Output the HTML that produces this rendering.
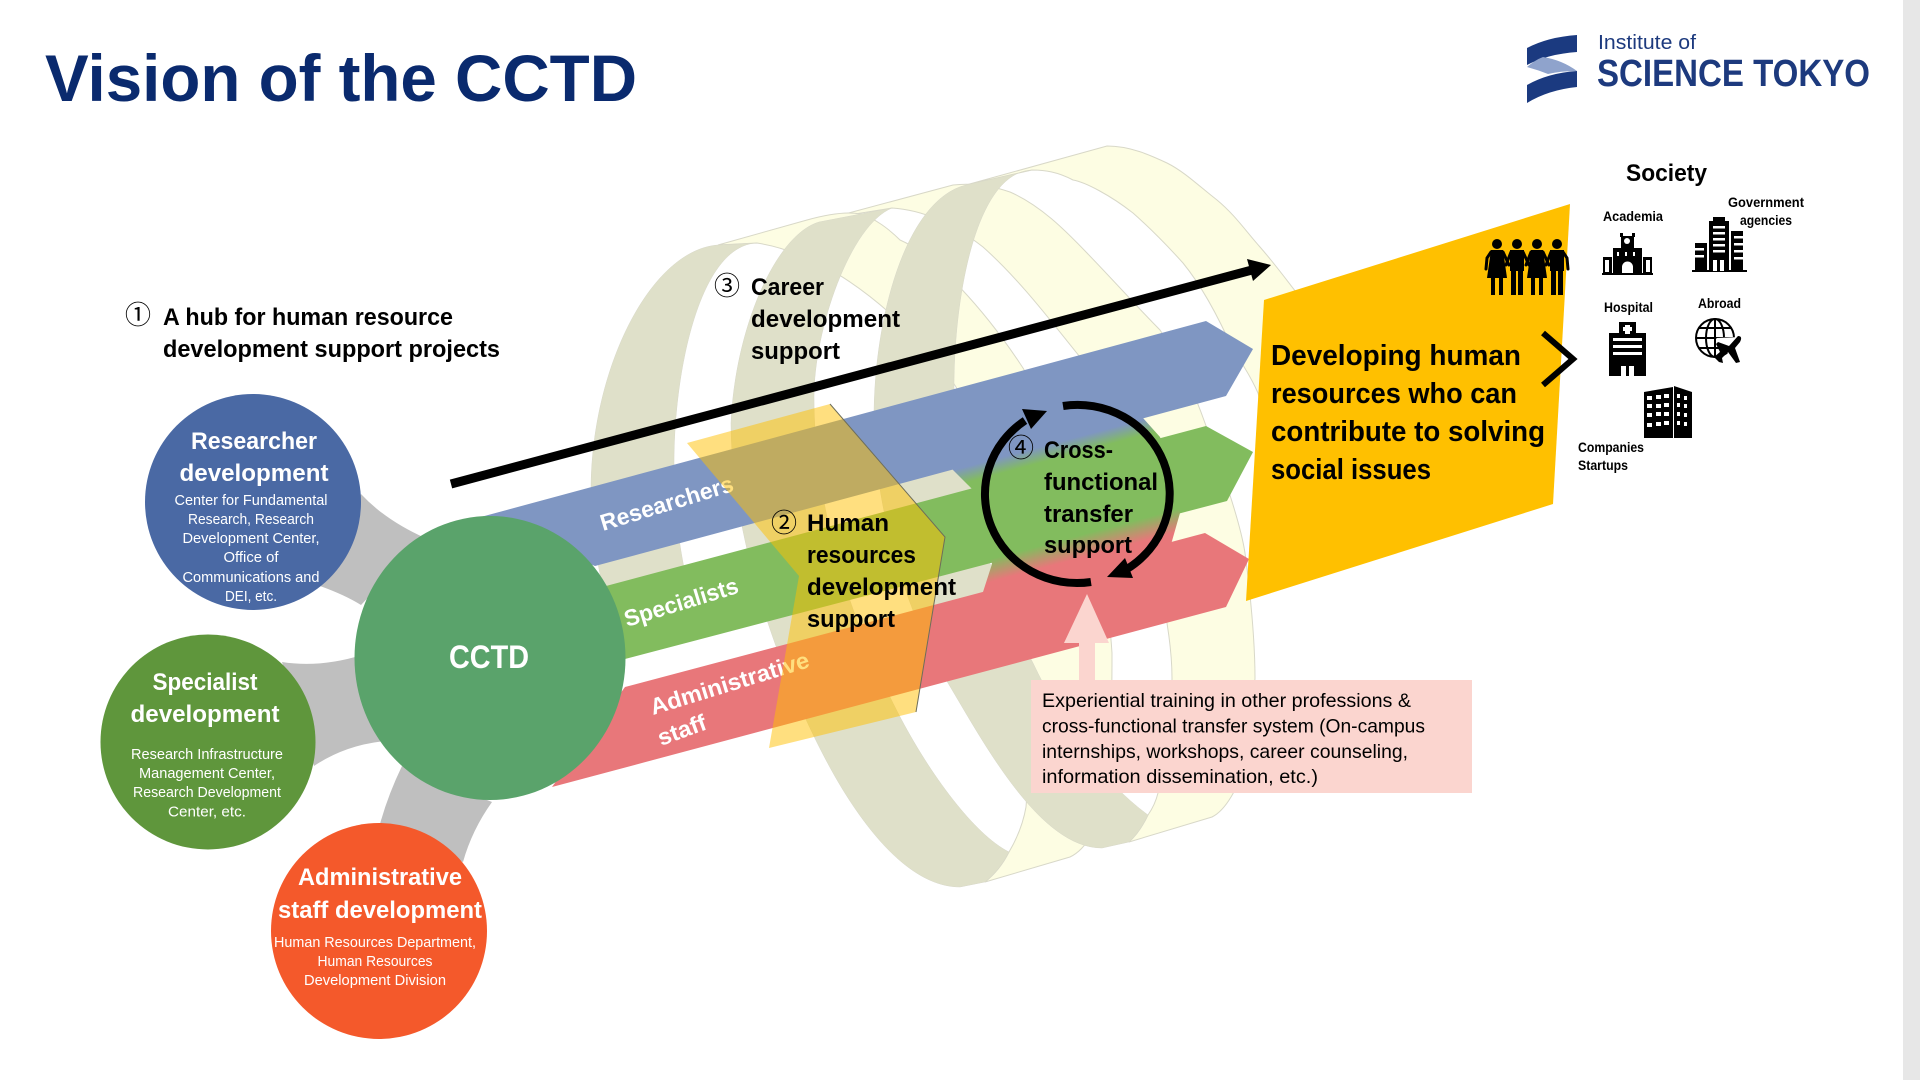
<!DOCTYPE html>
<html lang="en"><head><meta charset="utf-8"><title>Vision of the CCTD</title>
<style>html,body{margin:0;padding:0;background:#fff;width:1920px;height:1080px;overflow:hidden}svg{display:block}
text{font-family:"Liberation Sans","Noto Sans CJK JP",sans-serif}
.b{font-weight:bold}.w{fill:#fff}.s{font-size:14.5px;fill:#fff;text-anchor:middle}.t{font-size:24px;font-weight:bold;fill:#fff;text-anchor:middle}
.k{font-size:24px;font-weight:bold;fill:#000}.n{font-size:26px;fill:#000;text-anchor:middle}.l{font-size:13.5px;fill:#000;font-weight:bold}.p{font-size:19.5px;fill:#000}.d{font-size:29px;font-weight:bold;fill:#000}
.pale{fill:#fdfde3;stroke:#d8d8c8;stroke-width:1}.ol{fill:#dfe0c9;stroke:#d8d8c8;stroke-width:.5}</style></head><body>
<svg xmlns="http://www.w3.org/2000/svg" width="1920" height="1080" viewBox="0 0 1920 1080">
<defs><linearGradient id="g" gradientUnits="userSpaceOnUse" x1="1077" y1="400" x2="1127" y2="586.500"><stop offset=".185" stop-color="#7f96c2"/><stop offset=".265" stop-color="#82bc5e"/><stop offset=".68" stop-color="#82bc5e"/><stop offset=".795" stop-color="#e8777a"/></linearGradient></defs>
<rect width="1920" height="1080" fill="#fff"/>
<rect x="1903" y="0" width="17" height="1080" fill="#e7e7e7"/>
<text x="45" y="101" class="b" font-size="66" fill="#0a2a6e" textLength="592" lengthAdjust="spacingAndGlyphs">Vision of the CCTD</text>
<path d="M1527 48 Q1548 37 1577 35 L1577 52 Q1548 54 1527 65Z" fill="#1b3a80"/>
<path d="M1527 67 Q1535 60 1543 57 Q1562 60 1577 71 Q1560 71 1548 74 Q1538 70 1527 67Z" fill="#8fa3cc"/>
<path d="M1527 85 Q1548 73 1577 71 L1577 87 Q1548 90 1527 103Z" fill="#1b3a80"/>
<text x="1598" y="49" font-size="20" fill="#1d3a7e" textLength="98" lengthAdjust="spacingAndGlyphs">Institute of</text>
<text x="1597" y="86" class="b" font-size="38" fill="#1d3a7e" textLength="273" lengthAdjust="spacingAndGlyphs">SCIENCE TOKYO</text>

<path class="pale" d="M966 185 L1107 146 C1130 146 1150 155 1167 163 C1185 172 1200 187 1217 200 C1235 215 1245 230 1260 247 C1280 270 1290 285 1300 297 L1310 410 L1262 410 L1258 393 C1250 375 1240 360 1233 350 C1222 325 1205 290 1183 263 C1165 243 1150 228 1133 213 C1110 195 1085 182 1073 180 C1058 172 1045 170 1032 170Z"/>
<path class="pale" d="M830 218 L953 185 C970 183 990 185 1010 192 C1040 205 1065 230 1087 253 C1115 282 1140 310 1160 330 C1180 360 1195 395 1205 423 C1220 465 1240 520 1245 553 C1250 590 1255 640 1255 678 C1253 720 1245 775 1231 797 Q1222 812 1212 817 L1129 842 Q1140 832 1148 815 Q1155 805 1158 793 C1165 760 1172 710 1172 678 C1172 600 1130 460 1080 357 C1050 320 1020 280 983 247 C955 225 925 210 892 208Z"/>
<path class="pale" d="M718 245 L807 220 C825 215 845 211 860 214 C875 218 890 230 900 240 C935 255 985 310 1023 368 C1060 430 1105 540 1112 653 C1112 720 1110 770 1105 793 Q1095 845 1070 857 L985 882 Q1000 870 1009 852 Q1022 830 1026 807 C1030 760 1032 700 1029 660 C1020 570 990 450 956 387 C925 340 860 280 810 260 C790 250 770 245 757 243Z"/>
<path class="ol" d="M718 245 C650 250 591 370 591 490 C591 530 598 570 610 620 L692 600 C680 560 674 510 674 463 C674 370 700 245 757 243Z"/>
<path class="ol" d="M819 222 C775 235 735 330 731 423 C731 560 800 720 843 790 C880 850 920 887 960 887 L985 882 Q1000 870 1009 852 C975 835 930 775 898 713 C845 610 814 500 814 397 C814 330 850 225 892 208Z"/>
<path class="ol" d="M966 185 C905 200 874 320 874 417 C874 520 915 630 948 683 C985 745 1040 848 1102 848 L1129 842 Q1140 832 1148 815 C1100 780 1060 720 1033 663 C1000 600 960 500 954 387 C954 300 975 172 1032 170Z"/>
<polygon points="880,484 952,469 972,489 890,512" fill="#dfe0c9"/>
<polygon points="920,578 992,564 983,592 920,612" fill="#dfe0c9"/>

<path d="M361 494 Q385 520 425 538 L361 605 Q345 595 320 586Z" fill="#bfbfbf"/>
<path d="M282 662 Q320 668 362 655 L385 741 Q345 745 314 766Z" fill="#bfbfbf"/>
<path d="M402 766 Q388 795 380 824 L463 862 Q472 830 492 802Z" fill="#bfbfbf"/>

<polygon points="477,518 1206,321 1253,349 1226,396 595,566" fill="#7f96c2"/>
<polygon points="606,586 1206,426 1253,452 1227,501 625,659" fill="#82bc5e"/>
<polygon points="625,687 1205,533 1249,559 1226,607 552,787" fill="#e8777a"/>
<polygon points="952,469 972,489 992,564 983,592 1000,625 1150,610 1172,541 1180,513 1173,470 1160,437 1143,418 1100,395 1000,420" fill="url(#g)"/>

<ellipse cx="253" cy="502" rx="108" ry="108" fill="#4a69a4"/>
<circle cx="208" cy="742" r="107.500" fill="#5f963c"/>
<circle cx="379" cy="931" r="108" fill="#f4592b"/>
<ellipse cx="490" cy="658" rx="135.500" ry="142" fill="#5aa36b"/>

<text x="254" y="449" class="t" textLength="126" lengthAdjust="spacingAndGlyphs">Researcher</text>
<text x="254" y="481" class="t" textLength="149" lengthAdjust="spacingAndGlyphs">development</text>
<text x="251" y="505" class="s" textLength="153" lengthAdjust="spacingAndGlyphs">Center for Fundamental</text>
<text x="251" y="524" class="s" textLength="126" lengthAdjust="spacingAndGlyphs">Research, Research</text>
<text x="251" y="543" class="s" textLength="137" lengthAdjust="spacingAndGlyphs">Development Center,</text>
<text x="251" y="562" class="s" textLength="55" lengthAdjust="spacingAndGlyphs">Office of</text>
<text x="251" y="582" class="s" textLength="137" lengthAdjust="spacingAndGlyphs">Communications and</text>
<text x="251" y="601" class="s" textLength="52" lengthAdjust="spacingAndGlyphs">DEI, etc.</text>

<text x="205" y="690" class="t" textLength="105" lengthAdjust="spacingAndGlyphs">Specialist</text>
<text x="205" y="722" class="t" textLength="149" lengthAdjust="spacingAndGlyphs">development</text>
<text x="207" y="759" class="s" textLength="152" lengthAdjust="spacingAndGlyphs">Research Infrastructure</text>
<text x="207" y="778" class="s" textLength="136" lengthAdjust="spacingAndGlyphs">Management Center,</text>
<text x="207" y="797" class="s" textLength="148" lengthAdjust="spacingAndGlyphs">Research Development</text>
<text x="207" y="816.500" class="s" textLength="78" lengthAdjust="spacingAndGlyphs">Center,  etc.</text>

<text x="380" y="885" class="t" textLength="164" lengthAdjust="spacingAndGlyphs">Administrative</text>
<text x="380" y="918" class="t" textLength="204" lengthAdjust="spacingAndGlyphs">staff development</text>
<text x="375" y="947" class="s" textLength="202" lengthAdjust="spacingAndGlyphs">Human Resources Department,</text>
<text x="375" y="966" class="s" textLength="115" lengthAdjust="spacingAndGlyphs">Human Resources</text>
<text x="375" y="985" class="s" textLength="142" lengthAdjust="spacingAndGlyphs">Development Division</text>

<text x="489" y="668" class="b w" font-size="32" text-anchor="middle" textLength="80" lengthAdjust="spacingAndGlyphs">CCTD</text>

<text transform="translate(603 531) rotate(-17)" class="b w" font-size="23" textLength="138" lengthAdjust="spacingAndGlyphs">Researchers</text>
<text transform="translate(627 627) rotate(-17)" class="b w" font-size="23" textLength="118" lengthAdjust="spacingAndGlyphs">Specialists</text>
<text transform="translate(653 715) rotate(-17)" class="b w" font-size="23" textLength="165" lengthAdjust="spacingAndGlyphs">Administrative</text>
<text transform="translate(661 746) rotate(-20)" class="b w" font-size="23" textLength="50" lengthAdjust="spacingAndGlyphs">staff</text>

<polygon points="687,443 830,404 945,537 916,712 769,748 799,576" fill="#ffc000" fill-opacity=".5"/>
<polyline points="830,404 945,537 916,712" fill="none" stroke="#6e6e5a" stroke-width="1"/>

<polygon points="1264,300 1570,204 1553,504 1246,601" fill="#ffc000"/>

<line x1="451" y1="484" x2="1252" y2="270" stroke="#000" stroke-width="9"/>
<polygon points="1247,259 1271,265 1253,281" fill="#000"/>

<g fill="none" stroke="#000" stroke-width="8">
<path d="M1063 406 A92 89 0 0 1 1127 569"/>
<path d="M1091 582 A92 89 0 0 1 1025 420.600"/>
</g>
<polygon points="1047,411 1022,409 1031,429" fill="#000"/>
<polygon points="1107,577 1125,558 1133,578" fill="#000"/>

<polygon points="1087,594 1109,643 1095,643 1095,680 1079,680 1079,643 1064,643" fill="#fbd5cf"/>
<rect x="1031" y="680" width="441" height="113" fill="#fbd5cf"/>
<text x="1042" y="707" class="p" textLength="369" lengthAdjust="spacingAndGlyphs">Experiential training in other professions &amp;</text>
<text x="1042" y="732.500" class="p" textLength="383" lengthAdjust="spacingAndGlyphs">cross-functional transfer system (On-campus</text>
<text x="1042" y="758" class="p" textLength="366" lengthAdjust="spacingAndGlyphs">internships, workshops, career counseling,</text>
<text x="1042" y="783" class="p" textLength="276" lengthAdjust="spacingAndGlyphs">information dissemination, etc.)</text>

<text x="138" y="324" class="n">①</text>
<text x="163" y="325" class="k" textLength="290" lengthAdjust="spacingAndGlyphs">A hub for human resource</text>
<text x="163" y="357" class="k" textLength="337" lengthAdjust="spacingAndGlyphs">development support projects</text>

<text x="727" y="295" class="n">③</text>
<text x="751" y="295" class="k" textLength="73" lengthAdjust="spacingAndGlyphs">Career</text>
<text x="751" y="327" class="k" textLength="149" lengthAdjust="spacingAndGlyphs">development</text>
<text x="751" y="359" class="k" textLength="89" lengthAdjust="spacingAndGlyphs">support</text>

<text x="784" y="532" class="n">②</text>
<text x="807" y="531" class="k" textLength="82" lengthAdjust="spacingAndGlyphs">Human</text>
<text x="807" y="563" class="k" textLength="109" lengthAdjust="spacingAndGlyphs">resources</text>
<text x="807" y="595" class="k" textLength="149" lengthAdjust="spacingAndGlyphs">development</text>
<text x="807" y="627" class="k" textLength="88" lengthAdjust="spacingAndGlyphs">support</text>

<text x="1021" y="457" class="n">④</text>
<text x="1044" y="458" class="k" textLength="69" lengthAdjust="spacingAndGlyphs">Cross-</text>
<text x="1044" y="490" class="k" textLength="114" lengthAdjust="spacingAndGlyphs">functional</text>
<text x="1044" y="522" class="k" textLength="89" lengthAdjust="spacingAndGlyphs">transfer</text>
<text x="1044" y="553" class="k" textLength="88" lengthAdjust="spacingAndGlyphs">support</text>

<text x="1271" y="365" class="d" textLength="250" lengthAdjust="spacingAndGlyphs">Developing human</text>
<text x="1271" y="403" class="d" textLength="246" lengthAdjust="spacingAndGlyphs">resources who can</text>
<text x="1271" y="441" class="d" textLength="274" lengthAdjust="spacingAndGlyphs">contribute to solving</text>
<text x="1271" y="479" class="d" textLength="160" lengthAdjust="spacingAndGlyphs">social issues</text>

<polyline points="1543,333 1573,359 1543,385" fill="none" stroke="#000" stroke-width="6"/>

<text x="1626" y="181" class="k" textLength="81" lengthAdjust="spacingAndGlyphs">Society</text>
<text x="1603" y="221" class="l" textLength="60" lengthAdjust="spacingAndGlyphs">Academia</text>
<text x="1728" y="207" class="l" textLength="76" lengthAdjust="spacingAndGlyphs">Government</text>
<text x="1740" y="225" class="l" textLength="52" lengthAdjust="spacingAndGlyphs">agencies</text>
<text x="1604" y="312" class="l" textLength="49" lengthAdjust="spacingAndGlyphs">Hospital</text>
<text x="1698" y="308" class="l" textLength="43" lengthAdjust="spacingAndGlyphs">Abroad</text>
<text x="1578" y="452" class="l" textLength="66" lengthAdjust="spacingAndGlyphs">Companies</text>
<text x="1578" y="470" class="l" textLength="50" lengthAdjust="spacingAndGlyphs">Startups</text>

<g fill="#000">
<circle cx="1497" cy="244" r="5"/><polygon points="1491,250 1503,250 1507,278 1487,278"/><rect x="1491" y="278" width="4" height="17"/><rect x="1499" y="278" width="4" height="17"/>
<circle cx="1517" cy="244" r="5"/><polygon points="1510,250 1524,250 1524,271 1510,271"/><rect x="1511" y="270" width="5" height="25"/><rect x="1518" y="270" width="5" height="25"/>
<circle cx="1537" cy="244" r="5"/><polygon points="1531,250 1543,250 1547,278 1527,278"/><rect x="1531" y="278" width="4" height="17"/><rect x="1539" y="278" width="4" height="17"/>
<circle cx="1557" cy="244" r="5"/><polygon points="1550,250 1564,250 1564,271 1550,271"/><rect x="1551" y="270" width="5" height="25"/><rect x="1558" y="270" width="5" height="25"/>
</g>
<g fill="none" stroke="#000" stroke-width="3" stroke-linecap="round">
<polyline points="1491,252 1487,258 1486,269"/><polyline points="1503,252 1509,265"/><polyline points="1511,252 1506,265"/><polyline points="1523,252 1529,265"/><polyline points="1531,252 1526,265"/><polyline points="1543,252 1549,265"/><polyline points="1551,252 1546,265"/><polyline points="1563,252 1567,258 1568,269"/>
</g>

<g fill="#000"><rect x="1602" y="273" width="51" height="2"/><rect x="1603" y="257" width="9" height="16"/><rect x="1643" y="257" width="9" height="16"/><rect x="1613" y="248" width="29" height="25"/><rect x="1621" y="236" width="13" height="14"/><rect x="1620" y="233" width="3" height="4"/><rect x="1632" y="233" width="3" height="4"/></g>
<g fill="#fff"><circle cx="1627" cy="241" r="3"/><path d="M1622 273 v-6 a5.500 5.500 0 0 1 11 0 v6z"/><rect x="1605" y="260" width="4" height="12"/><rect x="1646" y="260" width="4" height="12"/><rect x="1617" y="252" width="2" height="4"/><rect x="1625" y="252" width="2" height="4"/><rect x="1633" y="252" width="2" height="4"/></g>
<g fill="#000"><rect x="1692" y="270" width="55" height="2"/><rect x="1695" y="243" width="12" height="28"/><rect x="1709" y="221" width="20" height="50"/><rect x="1713" y="217" width="12" height="5"/><rect x="1731" y="231" width="12" height="40"/></g>
<g fill="#fff"><rect x="1713" y="226" width="12" height="2.500"/><rect x="1713" y="232" width="12" height="2.500"/><rect x="1713" y="238" width="12" height="2.500"/><rect x="1713" y="244" width="12" height="2.500"/><rect x="1713" y="250" width="12" height="2.500"/><rect x="1713" y="260" width="4" height="11"/><rect x="1720" y="260" width="4" height="11"/><rect x="1695" y="248" width="9" height="2.500"/><rect x="1695" y="255" width="9" height="2.500"/><rect x="1734" y="236" width="9" height="2.500"/><rect x="1734" y="243" width="9" height="2.500"/><rect x="1734" y="250" width="9" height="2.500"/><rect x="1734" y="257" width="9" height="2.500"/></g>
<g fill="#000"><rect x="1609" y="333" width="37" height="43"/><rect x="1619" y="322" width="17" height="12"/></g>
<g fill="#fff"><rect x="1625" y="325" width="5" height="9"/><rect x="1623" y="327" width="9" height="4"/><rect x="1613" y="338" width="29" height="3"/><rect x="1613" y="345" width="29" height="3"/><rect x="1613" y="352" width="29" height="3"/><rect x="1621" y="366" width="5" height="10"/><rect x="1629" y="366" width="5" height="10"/></g>
<g fill="none" stroke="#000" stroke-width="2"><circle cx="1715" cy="338" r="19"/><ellipse cx="1715" cy="338" rx="9" ry="19"/><line x1="1715" y1="319" x2="1715" y2="357"/><line x1="1696" y1="338" x2="1734" y2="338"/><line x1="1699" y1="328" x2="1731" y2="328"/><line x1="1699" y1="348" x2="1731" y2="348"/></g>
<path d="M1716 338 L1742 337 L1732 358 Z" fill="#fff"/>
<path d="M1738 336 Q1743 336 1740 342 L1735 348 L1740 362 L1736 363 L1728 352 L1722 358 L1723 363 L1719 362 L1714 357 L1720 352 L1716 344 L1718 342 L1729 346 Z" fill="#000"/>
<polygon points="1644,392 1673,387 1673,438 1644,438" fill="#000"/><polygon points="1674,386 1692,392 1692,438 1674,438" fill="#000"/>
<g fill="#fff"><rect x="1647" y="396" width="5" height="4"/><rect x="1656" y="395" width="5" height="4"/><rect x="1664" y="394" width="5" height="4"/><rect x="1647" y="404" width="5" height="4"/><rect x="1656" y="404" width="5" height="4"/><rect x="1664" y="403" width="5" height="4"/><rect x="1647" y="413" width="5" height="4"/><rect x="1656" y="412" width="5" height="4"/><rect x="1664" y="412" width="5" height="4"/><rect x="1647" y="423" width="5" height="4"/><rect x="1656" y="422" width="5" height="4"/><rect x="1664" y="421" width="5" height="4"/><rect x="1677" y="394" width="3" height="4"/><rect x="1684" y="396" width="3" height="4"/><rect x="1677" y="403" width="3" height="4"/><rect x="1684" y="404" width="3" height="4"/><rect x="1677" y="412" width="3" height="4"/><rect x="1684" y="413" width="3" height="4"/><rect x="1677" y="421" width="3" height="4"/><rect x="1684" y="422" width="3" height="4"/></g>
</svg>
</body></html>
